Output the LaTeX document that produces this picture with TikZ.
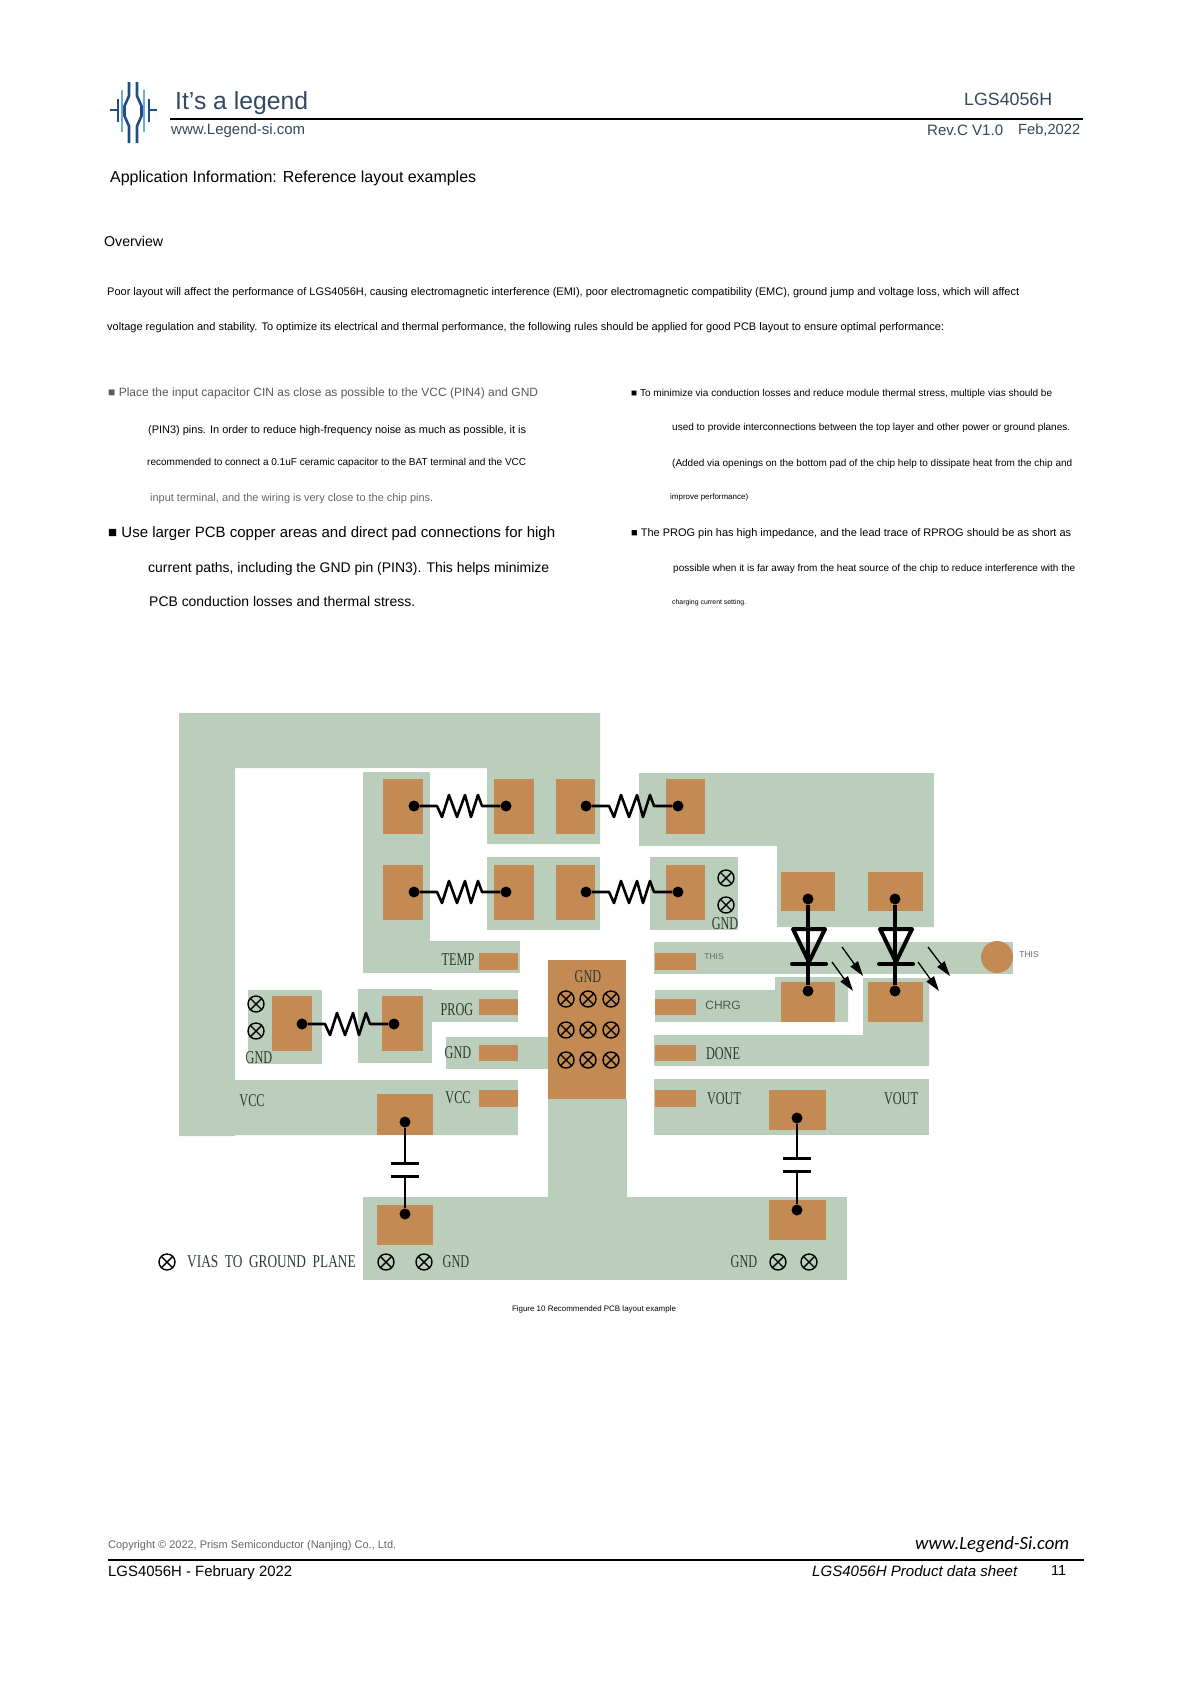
\documentclass[tikz,border=0pt]{standalone}
\usepackage{graphicx}
\usepackage{fontspec}
\setmainfont{Liberation Sans}
\newfontfamily\silk[FakeStretch=0.68]{Liberation Serif}
\newfontfamily\silkwide[FakeStretch=0.74]{Liberation Serif}
\newfontfamily\webfont{Carlito}
\usetikzlibrary{arrows.meta}
\definecolor{copper}{HTML}{C38A53}
\definecolor{plane}{HTML}{BBCDBB}
\definecolor{logoblue}{HTML}{1F4E86}
\definecolor{logolight}{HTML}{6FA8DC}
\definecolor{titleblue}{HTML}{33475F}
\definecolor{silkgrey}{HTML}{2E3A30}
\newcommand{\fitline}[2]{\resizebox{#1pt}{!}{#2}}
\newcommand{\resistor}[2]{\draw[wire] (#1) -- ++(23,0) -- ++(5,11) -- ++(7,-22) -- ++(8,22) -- ++(8,-22) -- ++(6,22) -- ++(7,-22) -- ++(4,11) -- (#2);}
\tikzset{
  textline/.style={anchor=west, inner sep=0pt},
  silkscreen/.style={inner sep=0pt, text=silkgrey, font=\silk\fontsize{18}{18}\selectfont},
  tinylabel/.style={inner sep=0pt, text=black!60, font=\fontsize{8.5}{8.5}\selectfont},
  sidelabel/.style={inner sep=0pt, text=silkgrey!85, font=\fontsize{12}{12}\selectfont},
  trace/.style={fill=plane},
  pad/.style={fill=copper},
  dot/.style={circle, fill=black, inner sep=0pt, minimum size=11pt},
  wire/.style={line width=2.6pt, line join=round},
  plate/.style={line width=3pt},
  ledbody/.style={line width=4pt, line join=round, line cap=round},
  ledarrow/.style={line width=1.3pt, -{Triangle[length=15pt, width=9pt]}},
  via/.style={circle, draw, inner sep=0pt, minimum size=16pt, line width=1.4pt,
    path picture={\draw[line width=1.4pt]
      (path picture bounding box.north west) -- (path picture bounding box.south east)
      (path picture bounding box.north east) -- (path picture bounding box.south west);}},
}
\begin{document}
\begin{tikzpicture}[x=1pt, y=-1pt]
  \useasboundingbox (0,0) rectangle (1189,1681);

  % logo
  \draw[logolight, line width=1.6pt] (122,90) -- (122,132) (144,90) -- (144,132);
  \draw[logoblue, line width=2.6pt, line join=round] (129,82) -- (129,96) -- (124.5,106) -- (124.5,116) -- (129,126) -- (129,143);
  \draw[logoblue, line width=2.6pt, line join=round] (137,82) -- (137,96) -- (141.5,106) -- (141.5,116) -- (137,126) -- (137,143);
  \draw[logoblue, line width=2pt] (110,110) -- (118,110) (149,110) -- (157,110);
  \draw[logoblue, line width=2pt] (118,99) -- (118,122) (149,99) -- (149,122);

  % page header
  \node[textline, text=titleblue] (brand) at (175,103) {\fitline{133}{It's a legend}};
  \node[textline, text=titleblue] (weblink) at (171,131) {\fitline{134}{www.Legend-si.com}};
  \node[textline, text=titleblue] (partno) at (964,99) {\fitline{88}{LGS4056H}};
  \node[textline, text=titleblue] (revision) at (927,130) {\fitline{76}{Rev.C V1.0}};
  \node[textline, text=titleblue] (revdate) at (1018,130) {\fitline{62}{Feb,2022}};
  \draw[line width=1.1pt] (170,119) -- (1083,119);

  % text blocks
  \node[textline] (heading) at (110,178) {\fitline{366}{Application Information: Reference layout examples}};
  \node[textline] (overview) at (104,241) {\fitline{59}{Overview}};
  \node[textline] (intro1) at (107,293) {\fitline{912}{Poor layout will affect the performance of LGS4056H, causing electromagnetic interference (EMI), poor electromagnetic compatibility (EMC), ground jump and voltage loss, which will affect}};
  \node[textline] (intro2) at (107,328) {\fitline{837}{voltage regulation and stability. To optimize its electrical and thermal performance, the following rules should be applied for good PCB layout to ensure optimal performance:}};

  \node[textline, text=black!65] (left1) at (108,393) {\fitline{430}{■ Place the input capacitor CIN as close as possible to the VCC (PIN4) and GND}};
  \node[textline] (left2) at (148,431) {\fitline{378}{(PIN3) pins. In order to reduce high-frequency noise as much as possible, it is}};
  \node[textline] (left3) at (147,463) {\fitline{379}{recommended to connect a 0.1uF ceramic capacitor to the BAT terminal and the VCC}};
  \node[textline, text=black!60] (left4) at (150,499) {\fitline{283}{input terminal, and the wiring is very close to the chip pins.}};
  \node[textline] (left5) at (108,534) {\fitline{447}{■ Use larger PCB copper areas and direct pad connections for high}};
  \node[textline] (left6) at (148,569) {\fitline{401}{current paths, including the GND pin (PIN3). This helps minimize}};
  \node[textline] (left7) at (149,602) {\fitline{266}{PCB conduction losses and thermal stress.}};

  \node[textline] (right1) at (631,394) {\fitline{421}{■ To minimize via conduction losses and reduce module thermal stress, multiple vias should be}};
  \node[textline] (right2) at (672,428) {\fitline{398}{used to provide interconnections between the top layer and other power or ground planes.}};
  \node[textline] (right3) at (672,464) {\fitline{400}{(Added via openings on the bottom pad of the chip help to dissipate heat from the chip and}};
  \node[textline] (right4) at (670,497) {\fitline{78}{improve performance)}};
  \node[textline] (right5) at (631,534) {\fitline{440}{■ The PROG pin has high impedance, and the lead trace of RPROG should be as short as}};
  \node[textline] (right6) at (673,569) {\fitline{402}{possible when it is far away from the heat source of the chip to reduce interference with the}};
  \node[textline] (right7) at (672,603) {\fitline{74}{charging current setting.}};

  % copper planes
  \fill[trace] (179,713) -- (600,713) -- (600,844) -- (487,844) -- (487,768) -- (235,768) -- (235,1080) -- (518,1080) -- (518,1135) -- (235,1135) -- (235,1136) -- (179,1136) -- cycle;
  \fill[trace] (363,772) rectangle (430,973);
  \fill[trace] (430,941) rectangle (520,973);
  \fill[trace] (487,857) rectangle (600,930);
  \fill[trace] (248,990) rectangle (322,1064);
  \fill[trace] (358,989) rectangle (432,1063);
  \fill[trace] (432,990) rectangle (518,1022);
  \fill[trace] (446,1037) rectangle (548,1069);
  \fill[trace] (548,1099) rectangle (627,1197);
  \fill[trace] (363,1197) rectangle (847,1280);
  \fill[trace] (639,773) -- (934,773) -- (934,927) -- (777,927) -- (777,846) -- (639,846) -- cycle;
  \fill[trace] (650,857) rectangle (738,930);
  \fill[trace] (654,942) rectangle (1013,974);
  \fill[trace] (655,990) -- (775,990) -- (775,977) -- (848,977) -- (848,1022) -- (655,1022) -- cycle;
  \fill[trace] (654,1035) -- (863,1035) -- (863,978) -- (929,978) -- (929,1066) -- (654,1066) -- cycle;
  \fill[trace] (654,1079) rectangle (929,1135);

  % pads
  \fill[pad] (383,779) rectangle (423,834);
  \fill[pad] (494,779) rectangle (534,834);
  \fill[pad] (556,779) rectangle (595,834);
  \fill[pad] (666,779) rectangle (705,834);
  \fill[pad] (383,865) rectangle (423,920);
  \fill[pad] (494,865) rectangle (534,920);
  \fill[pad] (556,865) rectangle (595,920);
  \fill[pad] (666,865) rectangle (705,920);
  \fill[pad] (272,996) rectangle (312,1051);
  \fill[pad] (382,996) rectangle (423,1051);
  \fill[pad] (479,953) rectangle (518,970);
  \fill[pad] (479,999) rectangle (518,1015);
  \fill[pad] (479,1045) rectangle (518,1061);
  \fill[pad] (479,1090) rectangle (518,1107);
  \fill[pad] (548,960) rectangle (626,1099);
  \fill[pad] (655,953) rectangle (696,970);
  \fill[pad] (655,999) rectangle (696,1015);
  \fill[pad] (655,1045) rectangle (696,1061);
  \fill[pad] (655,1090) rectangle (696,1107);
  \fill[pad] (781,872) rectangle (835,911);
  \fill[pad] (868,872) rectangle (923,911);
  \fill[pad] (781,982) rectangle (835,1022);
  \fill[pad] (868,982) rectangle (923,1022);
  \fill[pad] (377,1094) rectangle (433,1135);
  \fill[pad] (377,1205) rectangle (433,1245);
  \fill[pad] (769,1090) rectangle (826,1130);
  \fill[pad] (769,1200) rectangle (826,1240);
  \fill[pad] (997,957) circle (16);

  % resistors
  \node[dot] (r1a) at (414,806) {};
  \node[dot] (r1b) at (506,806) {};
  \node[dot] (r2a) at (586,806) {};
  \node[dot] (r2b) at (678,806) {};
  \node[dot] (r3a) at (414,892) {};
  \node[dot] (r3b) at (506,892) {};
  \node[dot] (r4a) at (586,892) {};
  \node[dot] (r4b) at (678,892) {};
  \node[dot] (r5a) at (302,1024) {};
  \node[dot] (r5b) at (394,1024) {};
  \resistor{r1a}{r1b}
  \resistor{r2a}{r2b}
  \resistor{r3a}{r3b}
  \resistor{r4a}{r4b}
  \resistor{r5a}{r5b}

  % capacitors
  \node[dot] (c1a) at (405,1122) {};
  \node[dot] (c1b) at (405,1214) {};
  \coordinate (c1p) at (405,1163);
  \coordinate (c1q) at (405,1176);
  \node[dot] (c2a) at (797,1118) {};
  \node[dot] (c2b) at (797,1210) {};
  \coordinate (c2p) at (797,1158);
  \coordinate (c2q) at (797,1171);
  \draw[wire] (c1a) -- (c1p);
  \draw[wire] (c1q) -- (c1b);
  \draw[plate] ([xshift=-14pt]c1p) -- ([xshift=14pt]c1p);
  \draw[plate] ([xshift=-14pt]c1q) -- ([xshift=14pt]c1q);
  \draw[wire] (c2a) -- (c2p);
  \draw[wire] (c2q) -- (c2b);
  \draw[plate] ([xshift=-14pt]c2p) -- ([xshift=14pt]c2p);
  \draw[plate] ([xshift=-14pt]c2q) -- ([xshift=14pt]c2q);

  % leds
  \node[dot] (d1a) at (808,899) {};
  \node[dot] (d1b) at (808,991) {};
  \node[dot] (d2a) at (895,899) {};
  \node[dot] (d2b) at (895,991) {};
  \draw[wire, line width=3.2pt] (d1a) -- (d1b);
  \draw[wire, line width=3.2pt] (d2a) -- (d2b);
  \draw[ledbody] (793,929) -- (825,929) -- (809,962) -- cycle;
  \draw[ledbody] (792,964) -- (826,964);
  \draw[ledbody] (880,929) -- (912,929) -- (896,962) -- cycle;
  \draw[ledbody] (879,964) -- (913,964);
  \coordinate (a1s) at (842,947);
  \coordinate (a1e) at (863,976);
  \coordinate (a2s) at (832,962);
  \coordinate (a2e) at (853,991);
  \coordinate (a3s) at (928,947);
  \coordinate (a3e) at (950,976);
  \coordinate (a4s) at (918,962);
  \coordinate (a4e) at (939,991);
  \draw[ledarrow] (a1s) -- (a1e);
  \draw[ledarrow] (a2s) -- (a2e);
  \draw[ledarrow] (a3s) -- (a3e);
  \draw[ledarrow] (a4s) -- (a4e);

  % vias
  \node[via] (v1) at (256,1004) {};
  \node[via] (v2) at (256,1031) {};
  \node[via] (v3) at (726,878) {};
  \node[via] (v4) at (726,905) {};
  \node[via] (v5) at (566,999) {};
  \node[via] (v6) at (588,999) {};
  \node[via] (v7) at (611,999) {};
  \node[via] (v8) at (566,1030) {};
  \node[via] (v9) at (588,1030) {};
  \node[via] (v10) at (611,1030) {};
  \node[via] (v11) at (566,1060) {};
  \node[via] (v12) at (588,1060) {};
  \node[via] (v13) at (611,1060) {};
  \node[via] (v14) at (167,1262) {};
  \node[via] (v15) at (386,1262) {};
  \node[via] (v16) at (424,1262) {};
  \node[via] (v17) at (778,1262) {};
  \node[via] (v18) at (809,1262) {};

  % silkscreen labels
  \node[silkscreen] (temp) at (458,960) {TEMP};
  \node[silkscreen] (prog) at (457,1010) {PROG};
  \node[silkscreen] (gndpin) at (458,1053) {GND};
  \node[silkscreen] (vccpin) at (458,1098) {VCC};
  \node[silkscreen] (vccplane) at (252,1101) {VCC};
  \node[silkscreen] (gndpad) at (588,977) {GND};
  \node[silkscreen] (gndleft) at (259,1058) {GND};
  \node[silkscreen] (gndtop) at (725,924) {GND};
  \node[silkscreen] (done) at (723,1054) {DONE};
  \node[silkscreen] (voutpin) at (724,1099) {VOUT};
  \node[silkscreen] (voutplane) at (901,1099) {VOUT};
  \node[silkscreen] (gndb1) at (456,1262) {GND};
  \node[silkscreen] (gndb2) at (744,1262) {GND};
  \node[silkscreen, font=\silkwide\fontsize{18}{18}\selectfont, anchor=west] (legend) at (187,1262) {VIAS~~TO~~GROUND~~PLANE};
  \node[tinylabel] (this1) at (714,957) {THIS};
  \node[tinylabel] (this2) at (1029,955) {THIS};
  \node[sidelabel] (chrg) at (723,1005) {CHRG};

  % caption
  \node[inner sep=0pt] (caption) at (594,1309) {\fitline{164}{Figure 10 Recommended PCB layout example}};

  % page footer
  \node[textline, text=black!60] (copyright) at (108,1546) {\fitline{288}{Copyright © 2022, Prism Semiconductor (Nanjing) Co., Ltd.}};
  \node[textline] (website) at (915,1545) {\fitline{154}{\webfont\itshape www.Legend-Si.com}};
  \draw[line width=2pt] (108,1560) -- (1084,1560);
  \node[textline] (docdate) at (108,1573) {\fitline{184}{LGS4056H - February 2022}};
  \node[textline] (doctitle) at (812,1571) {\fitline{205}{\itshape LGS4056H Product data sheet}};
  \node[textline] (pageno) at (1051,1571) {\fitline{15}{11}};
\end{tikzpicture}
\end{document}
